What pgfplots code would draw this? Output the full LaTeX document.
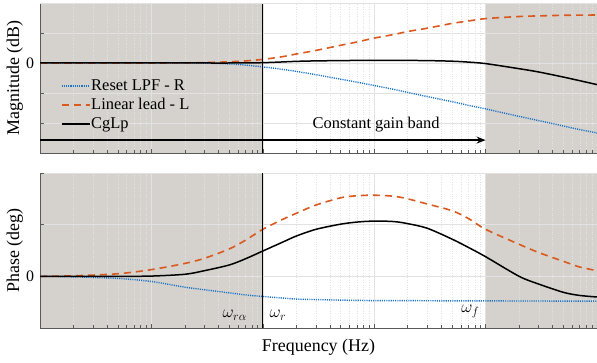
\documentclass[border=0pt]{standalone}
\usepackage{fontspec}
\setmainfont{Liberation Serif}
\usepackage{pgfplots}
\usepackage{pgfplotstable}
\pgfplotsset{compat=1.18}
\usetikzlibrary{arrows.meta}

\definecolor{mblue}{rgb}{0.1,0.45,0.78}
\definecolor{morange}{rgb}{0.85,0.35,0.12}
\definecolor{bgshade}{RGB}{213,209,204}
\definecolor{gridc}{RGB}{226,226,226}

\pgfplotsset{legend image code/.code={\draw[#1, line width=1.6bp] (0bp,0bp) -- (28bp,0bp);}}

\pgfplotstableread{
f R L C
1 0 0 0
2 0 0 0
5 0 0 0
10 0 0 0
20 0 0.05 0
30 -0.05 0.15 0
50 -0.3 0.4 0
70 -0.7 0.7 0.02
100 -1.3 1.2 0.1
150 -2.1 2.1 0.35
200 -2.8 3.0 0.55
300 -3.9 4.2 0.7
500 -5.4 5.9 0.8
700 -6.4 7.0 0.85
1000 -7.5 8.3 0.85
1500 -8.8 9.5 0.85
2000 -9.8 10.5 0.85
3000 -11.2 11.6 0.8
5000 -12.9 13.2 0.6
7000 -14.1 14.0 0.3
10000 -15.3 14.8 -0.2
20000 -17.8 15.5 -1.9
30000 -19.2 15.7 -3.0
50000 -21.0 15.9 -4.7
70000 -22.2 15.95 -5.9
100000 -23.3 16.0 -7.2
}\magdata

\pgfplotstableread{
f R L C
1 0 0 0
2 -0.2 0.2 0
5 -0.8 1.0 0
10 -2.0 2.6 0.1
20 -4.2 5.0 0.8
30 -5.2 7.0 2.2
50 -6.4 10.6 4.4
70 -7.2 14.0 6.8
100 -7.8 18.2 9.8
150 -8.4 22.0 13.2
200 -8.8 24.4 15.6
300 -9.0 27.6 18.2
500 -9.2 30.4 20.2
700 -9.3 31.2 21.0
1000 -9.4 31.4 21.4
1500 -9.4 31.0 21.2
2000 -9.4 30.0 20.4
3000 -9.45 28.0 18.6
5000 -9.5 25.4 14.4
7000 -9.5 22.4 11.2
10000 -9.5 18.2 7.6
20000 -9.55 12.4 0.0
30000 -9.55 9.2 -3.0
50000 -9.6 5.8 -6.2
70000 -9.6 3.6 -7.4
100000 -9.6 2.2 -8.0
}\phasedata

\tikzset{
  rl/.style={mblue, line width=1.4bp, dash pattern=on 1.1bp off 1.1bp},
  ll/.style={morange, line width=1.6bp, dash pattern=on 7bp off 5bp},
  cl/.style={black, line width=1.5bp, solid},
}

\begin{document}
\begin{tikzpicture}

% ---------- Magnitude ----------
\begin{axis}[
  scale only axis, width=557bp, height=150bp,
  at={(40bp,210bp)}, anchor=south west,
  xmode=log, xmin=1, xmax=100000,
  ymin=-30, ymax=20,
  set layers, clip=false,
  axis x line*=bottom, axis y line*=left,
  axis line style={draw=black!65, line width=0.9pt},
  xtick={1,10,100,1000,10000,100000}, xticklabels={},
  ytick={-30,-20,-10,0,10,20}, yticklabels={{},{},{},0,{},{}},
  tick align=inside,
  major tick length=4bp, minor tick length=2.5bp,
  tick style={black!65, line width=0.6pt},
  grid=both,
  major grid style={gridc, line width=0.6pt},
  minor grid style={gridc, dotted, line width=0.5pt},
  yticklabel style={font=\fontsize{16}{16}\selectfont, xshift=-2.5bp},
  /pgf/number format/assume math mode=true,
  legend style={draw=none, fill=none, at={(axis description cs:0.036,0.51)},
    anchor=north west, row sep=1.5bp, inner sep=0pt, line width=1.6bp,
    nodes={font=\fontsize{16.5}{18}\selectfont, inner sep=0.8bp, text height=12bp, text depth=4bp}},
  every legend image post/.append style={line width=1.6bp},
  legend cell align=left,
]
\begin{pgfonlayer}{axis background}
\fill[bgshade] (axis cs:1,-30) rectangle (axis cs:100,20);
\fill[bgshade] (axis cs:10000,-30) rectangle (axis cs:100000,20);
\end{pgfonlayer}
\addplot[rl, smooth] table[x=f, y=R] {\magdata};
\addlegendentry{Reset LPF - R}
\addplot[ll, smooth] table[x=f, y=L] {\magdata};
\addlegendentry{Linear lead - L}
\addplot[cl, smooth] table[x=f, y=C] {\magdata};
\addlegendentry{CgLp}
\draw[black, line width=0.9pt] (axis cs:100,-30) -- (axis cs:100,20);
\draw[gridc, line width=0.8pt] (rel axis cs:0,1) -- (rel axis cs:1,1);
\draw[-{Stealth[length=9bp,width=7bp]}, line width=1.6pt] (axis cs:1,-25.7) -- (axis cs:10000,-25.7);
\node[font=\fontsize{16.5}{18}\selectfont] at (axis cs:1040,-20.6) {Constant gain band};
\node[rotate=90, font=\fontsize{18}{20}\selectfont] at (axis description cs:-0.045,0.5) {Magnitude (dB)};
\end{axis}

% ---------- Phase ----------
\begin{axis}[
  scale only axis, width=557bp, height=155bp,
  at={(40bp,35bp)}, anchor=south west,
  xmode=log, xmin=1, xmax=100000,
  ymin=-20, ymax=40,
  set layers, clip=false,
  axis x line*=bottom, axis y line*=left,
  axis line style={draw=black!65, line width=0.9pt},
  xtick={1,10,100,1000,10000,100000}, xticklabels={},
  ytick={-20,0,20,40}, yticklabels={{},0,{},{}},
  tick align=inside,
  major tick length=4bp, minor tick length=2.5bp,
  tick style={black!65, line width=0.6pt},
  grid=both,
  major grid style={gridc, line width=0.6pt},
  minor grid style={gridc, dotted, line width=0.5pt},
  yticklabel style={font=\fontsize{16}{16}\selectfont, xshift=-2.5bp},
  /pgf/number format/assume math mode=true,
]
\begin{pgfonlayer}{axis background}
\fill[bgshade] (axis cs:1,-20) rectangle (axis cs:100,40);
\fill[bgshade] (axis cs:10000,-20) rectangle (axis cs:100000,40);
\end{pgfonlayer}
\addplot[rl, smooth] table[x=f, y=R] {\phasedata};
\addplot[ll, smooth] table[x=f, y=L] {\phasedata};
\addplot[cl, smooth] table[x=f, y=C] {\phasedata};
\draw[black, line width=0.9pt] (axis cs:100,-20) -- (axis cs:100,40);
\node[font=\fontsize{17}{18}\selectfont] at (axis cs:56,-15.0) {$\omega_{r\alpha}$};
\node[font=\fontsize{17}{18}\selectfont] at (axis cs:137,-15.0) {$\omega_{r}$};
\node[font=\fontsize{17}{18}\selectfont] at (axis cs:7300,-13.6) {$\omega_{f}$};
\node[rotate=90, font=\fontsize{18}{20}\selectfont] at (axis description cs:-0.045,0.5) {Phase (deg)};
\node[font=\fontsize{18}{20}\selectfont] at (axis description cs:0.5,-0.122) {Frequency (Hz)};
\end{axis}

\pgfresetboundingbox
\path[use as bounding box] (0,0) rectangle (597bp,363bp);
\end{tikzpicture}
\end{document}
